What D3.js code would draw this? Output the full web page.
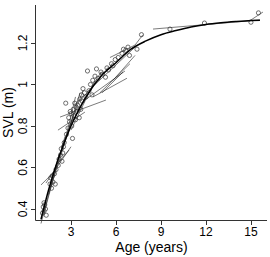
<!DOCTYPE html>
<html>
<head>
<meta charset="utf-8">
<script src="https://cdn.jsdelivr.net/npm/d3@7"></script>
<style>
  body { margin: 0; background: #fff; }
  svg { display: block; }
  text { font-family: "Liberation Sans", Arial, sans-serif; fill: #000; }
</style>
</head>
<body>
<div id="chart"></div>
<script>
// mean growth curve
var meanAge = [1.0, 1.5, 2.0, 2.5, 3.0, 3.5, 4.0, 5.0, 6.0, 7.0, 8.0, 9.0, 10.0, 11.0, 12.0, 13.0, 14.0, 15.0, 15.6]
var meanSvl = [0.35, 0.49, 0.61, 0.71, 0.80, 0.875, 0.94, 1.04, 1.105, 1.17, 1.21, 1.24, 1.26, 1.277, 1.289, 1.297, 1.303, 1.308, 1.31]

// captures (open circles)
var pointAge = [1.1, 1.15, 1.2, 1.25, 1.3, 1.35, 1.2,
  1.6, 1.7, 1.75, 1.8, 1.9, 1.95, 2.0, 1.65,
  2.15, 2.2, 2.3, 2.35, 2.4, 2.5, 2.55, 2.45,
  2.65, 2.7, 2.8, 2.85, 2.9, 3.0, 3.05, 3.1, 3.15, 3.2, 3.3, 3.35, 3.4, 3.45, 2.95, 3.25,
  3.55, 3.6, 3.7, 3.75, 3.8, 3.9, 4.0, 4.1, 4.2, 4.3, 4.4, 4.45, 3.65,
  4.6, 4.7, 4.8, 5.0, 5.1, 5.3, 5.4, 5.5, 5.7, 5.8, 5.95,
  6.15, 6.4, 6.5, 6.65, 6.8, 6.9, 7.4,
  7.7, 9.6, 11.9, 15.0, 15.5]
var pointSvl = [0.38, 0.41, 0.39, 0.42, 0.40, 0.37, 0.43,
  0.52, 0.50, 0.56, 0.53, 0.57, 0.52, 0.59, 0.55,
  0.61, 0.64, 0.66, 0.69, 0.63, 0.70, 0.72, 0.67,
  0.91, 0.76, 0.79, 0.84, 0.82, 0.86, 0.80, 0.74, 0.88, 0.85, 0.83, 0.89, 0.87, 0.90, 0.87, 0.91,
  0.84, 0.93, 0.95, 0.92, 0.98, 0.96, 0.94, 1.065, 0.97, 1.0, 0.95, 1.02, 0.88,
  1.04, 1.075, 1.03, 1.06, 1.05, 1.035, 1.08, 1.07, 1.10, 1.09, 1.12,
  1.13, 1.15, 1.17, 1.165, 1.18, 1.14, 1.17,
  1.24, 1.267, 1.296, 1.30, 1.345]

// individual fits (thin lines)
var segStartAge = [2.27, 2.13, 3.93, 5.6, 8.47, 7.27, 14.9, 1.0, 2.0, 1.33, 4.47, 4.93, 4.07, 5.07, 5.8,
  1.0, 1.2, 1.5, 2.4, 3.0, 3.4, 2.8, 3.2, 2.6]
var segStartSvl = [0.843, 0.78, 0.925, 1.13, 1.267, 1.19, 1.306, 0.516, 0.61, 0.525, 0.94, 0.96, 0.964, 0.96, 1.02,
  0.33, 0.38, 0.47, 0.70, 0.78, 0.86, 0.77, 0.90, 0.73]
var segEndAge = [5.33, 3.93, 6.6, 7.27, 15.6, 7.8, 15.8, 2.0, 2.87, 3.0, 6.73, 6.93, 7.27, 6.47, 7.27,
  2.2, 2.6, 3.2, 3.8, 4.6, 5.0, 3.6, 4.4, 3.3]
var segEndSvl = [0.925, 0.867, 1.065, 1.19, 1.311, 1.24, 1.349, 0.588, 0.684, 0.70, 1.03, 1.10, 1.18, 1.06, 1.14,
  0.66, 0.75, 0.86, 0.97, 1.02, 1.06, 0.96, 0.98, 0.94]

var xTicks = [3, 6, 9, 12, 15]
var yTicks = [0.4, 0.6, 0.8, 1.0, 1.2]
var yTickLabels = ['0.4', '0.6', '0.8', '1', '1.2']

var width = 270
var height = 257
var plotLeft = 36, plotRight = 267, plotTop = 5, plotBottom = 220

function go () {
  var svg = d3.select('#chart').append('svg').attr('width', width).attr('height', height)

  var x = d3.scaleLinear().domain([0.667, 16.07]).range([plotLeft, plotRight])
  var y = d3.scaleLinear().domain([0.347, 1.383]).range([plotBottom, plotTop])

  var g = svg.append('g')

  // thin individual lines
  g.selectAll('line.ind')
    .data(d3.range(segStartAge.length))
    .enter()
    .append('line')
    .attr('x1', i => x(segStartAge[i]))
    .attr('y1', i => y(segStartSvl[i]))
    .attr('x2', i => x(segEndAge[i]))
    .attr('y2', i => y(segEndSvl[i]))
    .style('stroke', '#222')
    .style('stroke-width', 0.6)

  // open circles
  g.selectAll('circle')
    .data(d3.range(pointAge.length))
    .enter()
    .append('circle')
    .attr('cx', i => x(pointAge[i]))
    .attr('cy', i => y(pointSvl[i]))
    .attr('r', 2.1)
    .style('fill', 'none')
    .style('stroke', '#333')
    .style('stroke-width', 0.7)

  // mean curve
  var line = d3.line()
    .x(i => x(meanAge[i]))
    .y(i => y(meanSvl[i]))
    .curve(d3.curveMonotoneX)

  g.append('path')
    .attr('d', line(d3.range(meanAge.length)))
    .style('fill', 'none')
    .style('stroke', '#000')
    .style('stroke-width', 1.5)

  // axes (L-shaped box)
  svg.append('path')
    .attr('d', 'M' + (plotLeft - 0.5) + ',' + plotTop + 'V' + (plotBottom + 0.5) + 'H' + plotRight)
    .style('fill', 'none')
    .style('stroke', '#333')
    .style('stroke-width', 1)

  var xa = svg.append('g')
  xa.selectAll('line')
    .data(xTicks).enter().append('line')
    .attr('x1', d => Math.round(x(d)) + 0.5).attr('x2', d => Math.round(x(d)) + 0.5)
    .attr('y1', plotBottom).attr('y2', plotBottom + 5)
    .style('stroke', '#333')
  xa.selectAll('text')
    .data(xTicks).enter().append('text')
    .attr('x', d => x(d)).attr('y', 235.5)
    .attr('text-anchor', 'middle')
    .style('font-size', '12px')
    .text(d => d)

  var ya = svg.append('g')
  ya.selectAll('line')
    .data(yTicks).enter().append('line')
    .attr('y1', d => Math.round(y(d)) + 0.5).attr('y2', d => Math.round(y(d)) + 0.5)
    .attr('x1', plotLeft - 5).attr('x2', plotLeft)
    .style('stroke', '#333')
  ya.selectAll('text')
    .data(yTicks).enter().append('text')
    .attr('transform', d => 'translate(27,' + y(d) + ') rotate(-90)')
    .attr('text-anchor', 'middle')
    .style('font-size', '12px')
    .text((d, i) => yTickLabels[i])

  svg.append('text')
    .attr('x', (plotLeft + plotRight) / 2).attr('y', 252)
    .attr('text-anchor', 'middle')
    .style('font-size', '14px')
    .text('Age (years)')

  svg.append('text')
    .attr('transform', 'translate(13,' + (plotTop + plotBottom) / 2 + ') rotate(-90)')
    .attr('text-anchor', 'middle')
    .style('font-size', '14px')
    .text('SVL (m)')
}

document.addEventListener('DOMContentLoaded', go)
</script>
</body>
</html>
